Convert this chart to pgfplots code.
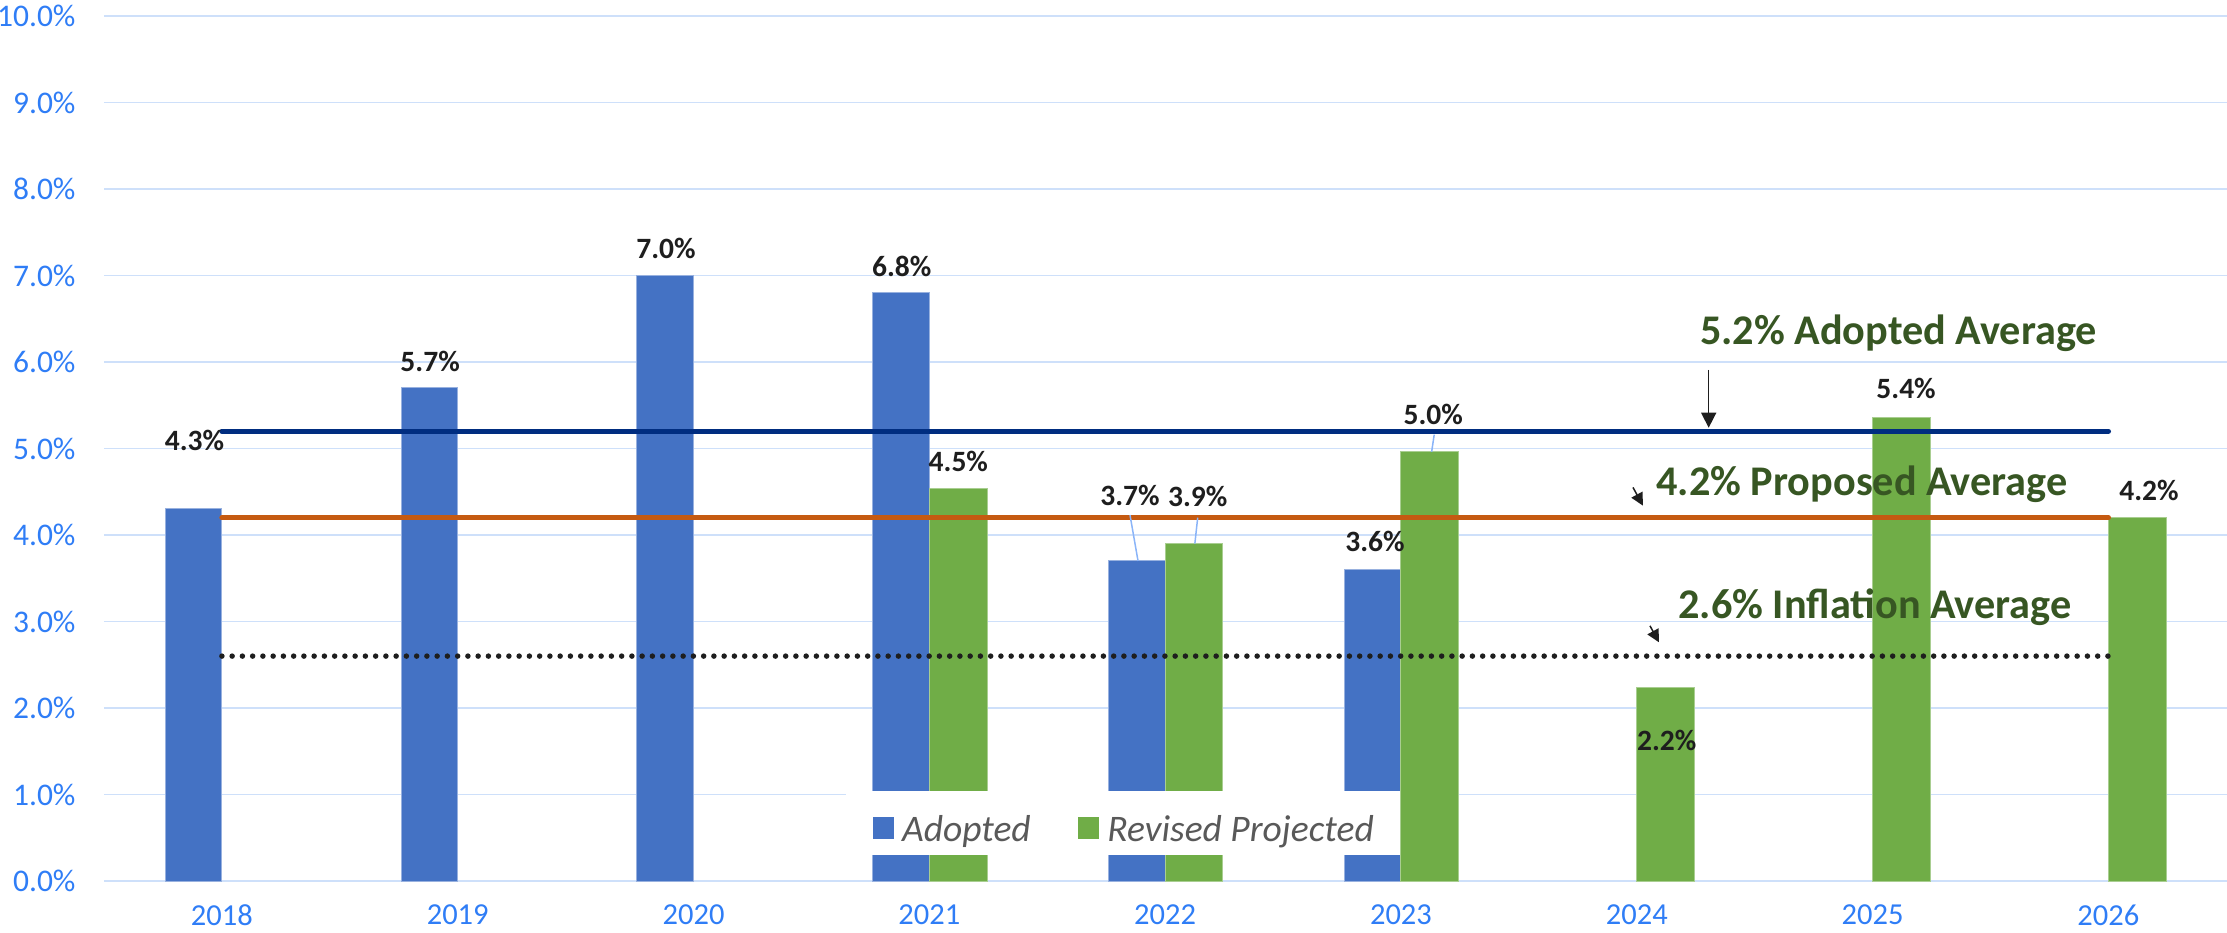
\documentclass[border=0pt]{standalone}
\usepackage{fontspec}
\setmainfont{Carlito}
\usepackage{pgfplots}
\pgfplotsset{compat=1.18}
\usetikzlibrary{arrows.meta}
\definecolor{tickblue}{RGB}{47,125,246}
\definecolor{gridblue}{RGB}{206,224,250}
\definecolor{barblue}{RGB}{68,114,196}
\definecolor{bargreen}{RGB}{112,173,71}
\definecolor{navyline}{RGB}{0,45,128}
\definecolor{orangeline}{RGB}{197,90,17}
\definecolor{annot}{RGB}{55,86,35}
\definecolor{leader}{RGB}{138,180,248}
\definecolor{legtext}{RGB}{89,89,89}
\definecolor{labcol}{RGB}{30,30,30}
\begin{document}
\begin{tikzpicture}[
  lab/.style={font=\bfseries\fontsize{11.8}{14}\selectfont, text=labcol, inner sep=0pt},
  ann/.style={font=\bfseries\fontsize{16.9}{19}\selectfont, text=annot, inner sep=0pt, anchor=base},
]
\begin{axis}[
  width=849.2pt, height=346pt, scale only axis,
  xmin=-0.5, xmax=8.503, ymin=0, ymax=10,
  axis line style={draw=none},
  major tick length=0pt,
  xtick={0,1,2,3,4,5,6,7,8},
  xticklabels={2018,2019,2020,2021,2022,2023,2024,2025,2026},
  ytick={0,1,2,3,4,5,6,7,8,9,10},
  yticklabels={0.0\%,1.0\%,2.0\%,3.0\%,4.0\%,5.0\%,6.0\%,7.0\%,8.0\%,9.0\%,10.0\%},
  ymajorgrids,
  grid style={gridblue, line width=0.6pt},
  tick label style={font=\fontsize{12.6}{14}\selectfont, text=tickblue},
  yticklabel style={inner xsep=0pt, xshift=-11.2pt},
  xticklabel style={inner ysep=0pt, yshift=-9.4pt, font=\fontsize{12.2}{14}\selectfont},
  legend columns=2,
  legend style={at={(axis cs:2.757,0.59)}, anchor=west, draw=none, fill=none,
    inner sep=0pt, font=\itshape\fontsize{15}{17}\selectfont, text=legtext,
    nodes={inner xsep=3.4pt, inner ysep=1pt},
    /tikz/every even column/.append style={column sep=15.5pt}},
  legend cell align=left,
]
\addplot[ybar, bar width=0.24, bar shift=-0.12, fill=barblue, draw=barblue!55!white, line width=0.4pt,
  legend image code/.code={\fill[barblue] (0pt,-3.6pt) rectangle (8pt,4.9pt);}]
  coordinates {(0,4.31) (1,5.70) (2,7.00) (3,6.80) (4,3.70) (5,3.60)};
\addlegendentry{Adopted}
\addplot[ybar, bar width=0.245, bar shift=0.1225, fill=bargreen, draw=bargreen!60!white, line width=0.4pt,
  legend image code/.code={\fill[bargreen] (0pt,-3.6pt) rectangle (8pt,4.9pt);}]
  coordinates {(3,4.54) (4,3.90) (5,4.96) (6,2.24) (7,5.36) (8,4.20)};
\addlegendentry{Revised Projected}
% legend background
\fill[white] (axis cs:2.648,0.30) rectangle (axis cs:4.995,1.04);
% averages
\addplot[forget plot, navyline, line width=2.1pt, line cap=round] coordinates {(0,5.2) (8,5.2)};
\addplot[forget plot, orangeline, line width=2.1pt, line cap=round] coordinates {(0,4.2) (8,4.2)};
\addplot[forget plot, labcol, line width=2.2pt, line cap=round, dash pattern=on 0pt off 4.1pt] coordinates {(0,2.6) (8,2.6)};
% leader lines
\draw[leader, line width=0.6pt] (axis cs:3.851,4.23) -- (axis cs:3.885,3.70);
\draw[leader, line width=0.6pt] (axis cs:4.138,4.20) -- (axis cs:4.126,3.90);
\draw[leader, line width=0.6pt] (axis cs:5.141,5.16) -- (axis cs:5.130,4.96);
% data labels
\node[lab] at (axis cs:-0.116,5.09) {4.3\%};
\node[lab] at (axis cs:0.883,6.01) {5.7\%};
\node[lab] at (axis cs:1.883,7.31) {7.0\%};
\node[lab] at (axis cs:2.883,7.10) {6.8\%};
\node[lab] at (axis cs:3.123,4.85) {4.5\%};
\node[lab] at (axis cs:3.851,4.46) {3.7\%};
\node[lab] at (axis cs:4.138,4.44) {3.9\%};
\node[lab] at (axis cs:4.890,3.92) {3.6\%};
\node[lab] at (axis cs:5.137,5.39) {5.0\%};
\node[lab] at (axis cs:6.127,1.63) {2.2\%};
\node[lab] at (axis cs:7.142,5.69) {5.4\%};
\node[lab] at (axis cs:8.172,4.52) {4.2\%};
% annotations
\node[ann] at (axis cs:7.11,6.20) {5.2\% Adopted Average};
\node[ann] at (axis cs:6.955,4.46) {4.2\% Proposed Average};
\node[ann] at (axis cs:7.01,3.04) {2.6\% Inflation Average};
\draw[-{Triangle[length=6pt,width=6pt]}, line width=0.6pt, labcol] (axis cs:6.305,5.91) -- (axis cs:6.305,5.24);
\draw[-{Triangle[length=5pt,width=5pt]}, line width=0.6pt, labcol] (axis cs:5.984,4.55) -- (axis cs:6.026,4.34);
\draw[-{Triangle[length=5pt,width=5pt]}, line width=0.6pt, labcol] (axis cs:6.056,2.95) -- (axis cs:6.094,2.76);
\end{axis}
\pgfresetboundingbox
\path (-41.6pt,-20.4pt) rectangle (849.2pt,352.4pt);
\end{tikzpicture}
\end{document}
